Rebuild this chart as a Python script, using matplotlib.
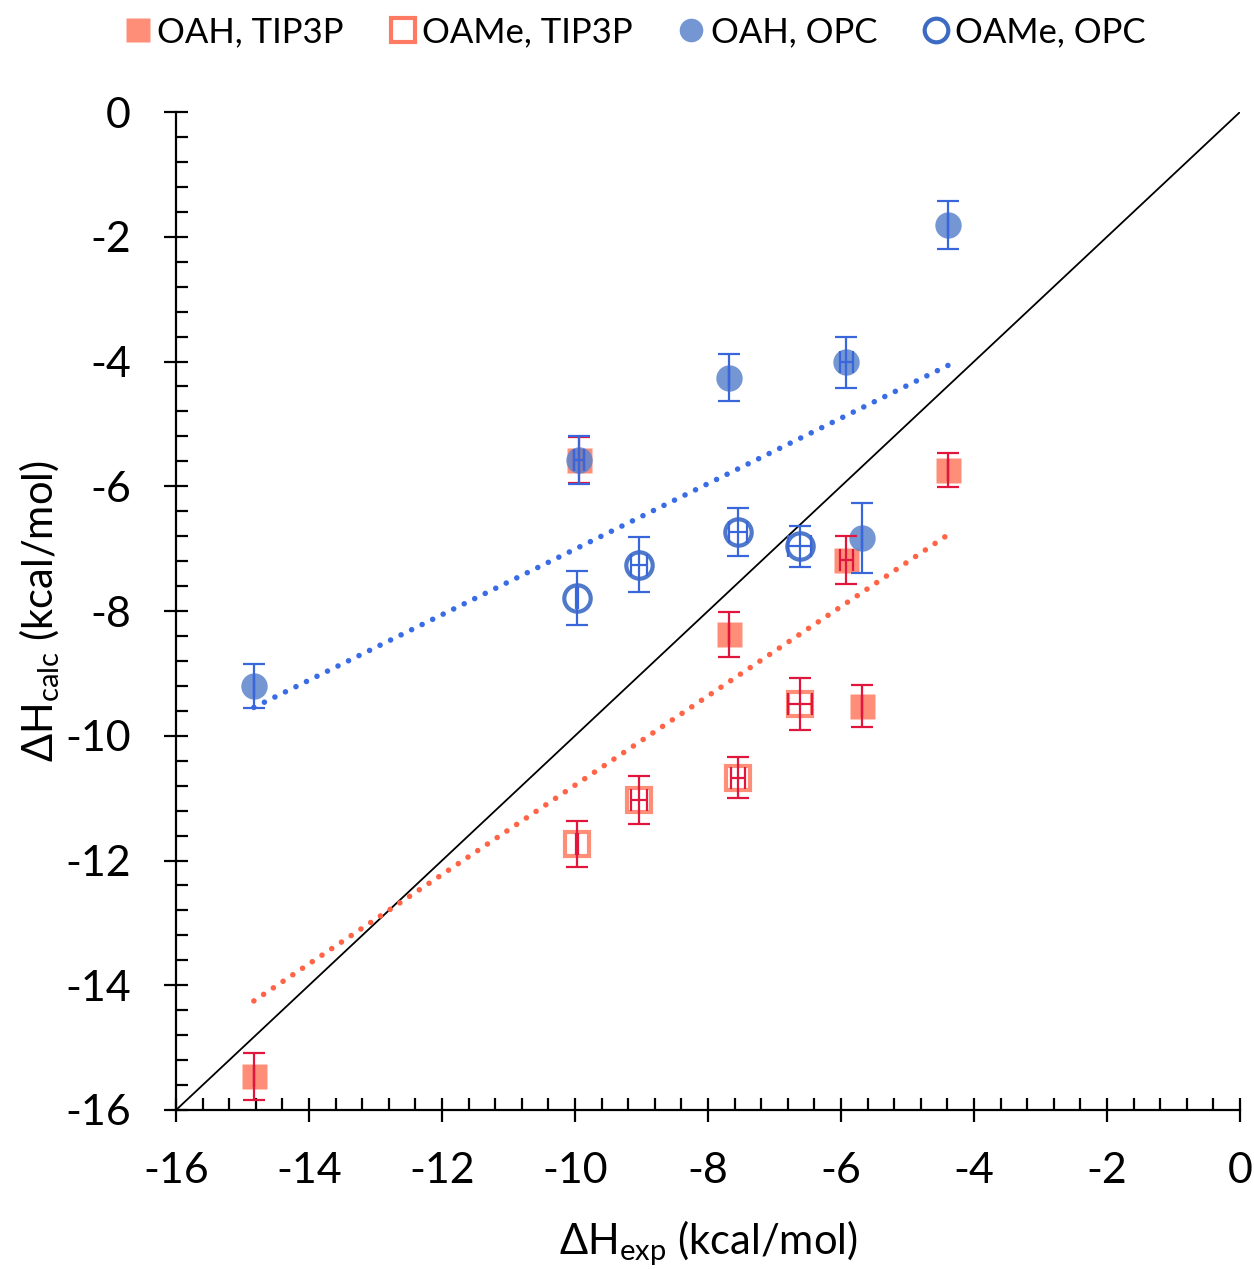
import numpy as np
import matplotlib.pyplot as plt
from matplotlib.lines import Line2D
from matplotlib.ticker import MultipleLocator

plt.rcParams['font.family'] = ['Lato', 'DejaVu Sans']

# experimental enthalpies (x) shared by both water models
x_oah = [-14.83, -9.94, -7.68, -5.92, -5.68, -4.39]
x_oame = [-9.97, -9.04, -7.55, -6.62]

# TIP3P
y_oah_tip3p = [-15.46, -5.58, -8.37, -7.18, -9.52, -5.74]
ey_oah_tip3p = [0.38, 0.37, 0.36, 0.39, 0.34, 0.27]
ex_oah_tip3p = [0.0, 0.08, 0.0, 0.1, 0.0, 0.0]
y_oame_tip3p = [-11.73, -11.03, -10.67, -9.49]
ey_oame_tip3p = [0.37, 0.38, 0.33, 0.42]
ex_oame_tip3p = [0.02, 0.12, 0.1, 0.18]

# OPC
y_oah_opc = [-9.20, -5.58, -4.26, -4.01, -6.83, -1.81]
ey_oah_opc = [0.35, 0.39, 0.38, 0.41, 0.56, 0.39]
ex_oah_opc = [0.0, 0.08, 0.0, 0.1, 0.0, 0.0]
y_oame_opc = [-7.79, -7.26, -6.73, -6.96]
ey_oame_opc = [0.43, 0.44, 0.38, 0.33]
ex_oame_opc = [0.02, 0.12, 0.13, 0.17]

salmon = '#ff7a62'
crimson = '#e0163c'
blue_fill = '#5c84cc'
blue = '#3a66dc'

fig = plt.figure(figsize=(12.54, 12.69), dpi=100)
ax = fig.add_axes([0.1404, 0.1253, 0.8484, 0.7864])

# identity line
ax.plot([-16, 0], [-16, 0], color='black', lw=1.3, zorder=1)

# trendlines (linear fit over both hosts per water model)
def trendline(xs, ys, color):
    xs = np.array(xs)
    ys = np.array(ys)
    m, b = np.polyfit(xs, ys, 1)
    xx = np.array([xs.min(), xs.max()])
    ax.plot(xx, m * xx + b, color=color, lw=4, linestyle=(0, (0.01, 2.1)),
            dash_capstyle='round', zorder=1.5)

trendline(x_oah + x_oame, y_oah_tip3p + y_oame_tip3p, '#ff6447')
trendline(x_oah + x_oame, y_oah_opc + y_oame_opc, '#3a6ce6')

# markers
ax.plot(x_oah, y_oah_tip3p, 's', ms=18, color=salmon, alpha=0.85, mec='none', zorder=2)
ax.plot(x_oame, y_oame_tip3p, 's', ms=17, mfc='white', mec=salmon, mew=3, alpha=0.85, zorder=2)
ax.plot(x_oah, y_oah_opc, 'o', ms=19, color=blue_fill, alpha=0.85, mec='none', zorder=2.2)
ax.plot(x_oame, y_oame_opc, 'o', ms=19, mfc='white', mec='#3d6bc4', mew=3, alpha=0.9, zorder=2.2)

# error bars on top
for xs, ys, ex, ey, c in [(x_oah, y_oah_tip3p, ex_oah_tip3p, ey_oah_tip3p, crimson),
                          (x_oame, y_oame_tip3p, ex_oame_tip3p, ey_oame_tip3p, crimson),
                          (x_oah, y_oah_opc, ex_oah_opc, ey_oah_opc, blue),
                          (x_oame, y_oame_opc, ex_oame_opc, ey_oame_opc, blue)]:
    ax.errorbar(xs, ys, yerr=ey, xerr=ex, fmt='none', ecolor=c, elinewidth=1.6,
                capsize=8, capthick=1.6, zorder=3)

ax.set_xlim(-16, 0)
ax.set_ylim(-16, 0)
ax.spines['top'].set_visible(False)
ax.spines['right'].set_visible(False)
for s in ['left', 'bottom']:
    ax.spines[s].set_linewidth(1.6)

ax.xaxis.set_major_locator(MultipleLocator(2))
ax.yaxis.set_major_locator(MultipleLocator(2))
ax.xaxis.set_minor_locator(MultipleLocator(0.4))
ax.yaxis.set_minor_locator(MultipleLocator(0.4))
ax.tick_params(which='major', direction='inout', length=17, width=1.6,
               labelsize=31, pad=22)
ax.tick_params(which='minor', direction='in', length=8.5, width=1.6)
ax.tick_params(axis='y', which='major', pad=24)
ax.set_xticklabels([str(int(v)) for v in ax.get_xticks()])
ax.set_yticklabels([str(int(v)) for v in ax.get_yticks()])

ax.set_xlabel('ΔH$_\\mathregular{exp}$ (kcal/mol)', fontsize=30, labelpad=20)
ax.set_ylabel('ΔH$_\\mathregular{calc}$ (kcal/mol)', fontsize=30, labelpad=2)

handles = [
    Line2D([], [], ls='none', marker='s', ms=17, color=salmon, mec='none', alpha=0.85),
    Line2D([], [], ls='none', marker='s', ms=17, mfc='white', mec=salmon, mew=3),
    Line2D([], [], ls='none', marker='o', ms=17, color=blue_fill, mec='none', alpha=0.85),
    Line2D([], [], ls='none', marker='o', ms=17, mfc='white', mec='#3d6bc4', mew=3),
]
labels = ['OAH, TIP3P', 'OAMe, TIP3P', 'OAH, OPC', 'OAMe, OPC']
fig.legend(handles, labels, loc='upper center', bbox_to_anchor=(0.505, 1.012), ncol=4,
           frameon=False, fontsize=25, handletextpad=0.05, columnspacing=1.2,
           handlelength=1.0)

fig.savefig('out.png', dpi=100)
